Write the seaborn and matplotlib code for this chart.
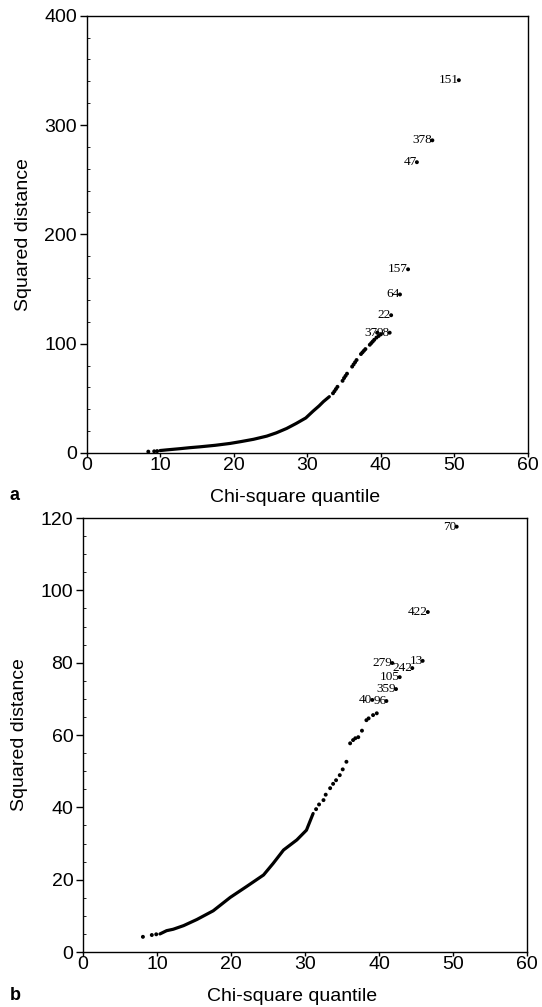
import numpy as np
import pandas as pd
import matplotlib
matplotlib.use('Agg')
import matplotlib.pyplot as plt
import seaborn as sns
from matplotlib.ticker import MultipleLocator

# --- panel a: squared distance vs chi-square quantile ---
# dense part of the curve
a_line_q = [10.0, 10.9, 12.7, 14.0, 15.4, 17.5, 19.5, 21.0, 22.7, 24.5,
            25.8, 27.2, 28.5, 29.8, 30.8, 31.6, 32.2, 33.0]
a_line_d = [2.2, 2.8, 3.9, 4.8, 5.6, 7.0, 8.7, 10.4, 12.5, 15.4,
            18.4, 22.4, 27.0, 32.0, 38.3, 43.0, 47.0, 51.5]
# sparse dots (dashed looking upper part and lone points at the start)
a_dot_q = [8.4, 9.2, 9.6, 33.5, 33.7, 33.9, 34.1, 34.8, 35.0, 35.2, 35.4,
           36.1, 36.3, 36.5, 36.7, 37.3, 37.5, 37.7, 37.9, 38.5, 38.7, 38.9,
           39.1, 39.4, 39.7, 40.0]
a_dot_d = [1.2, 1.5, 1.7, 54.6, 56.5, 58.5, 60.5, 66.0, 68.5, 70.5, 72.5,
           79.0, 81.0, 83.0, 85.0, 90.5, 92.0, 93.5, 95.0, 99.0, 100.5, 102.0,
           103.5, 105.5, 107.0, 108.5]
# labelled outliers (label sits to the left of its point)
a_lab = ['151', '378', '47', '157', '64', '22', '37', '98']
a_lab_q = [50.6, 47.0, 44.9, 43.7, 42.6, 41.4, 39.5, 41.2]
a_lab_d = [341.0, 286.0, 266.0, 168.0, 145.0, 126.0, 110.0, 110.0]

# --- panel b ---
b_line_q = [10.4, 11.3, 12.2, 13.6, 15.4, 17.6, 19.9, 22.1, 24.4, 25.7,
            27.1, 28.9, 30.2, 31.1]
b_line_d = [5.0, 5.9, 6.3, 7.3, 9.0, 11.4, 15.1, 18.1, 21.3, 24.5,
            28.2, 31.0, 33.7, 38.3]
b_dot_q = [8.1, 9.3, 9.9, 31.5, 31.9, 32.5, 32.8, 33.4, 33.8, 34.2, 34.7,
           35.1, 35.6, 36.1, 36.5, 36.8, 37.2, 37.7, 38.3, 38.6, 39.2, 39.7]
b_dot_d = [4.2, 4.7, 4.9, 39.5, 40.8, 42.0, 43.5, 45.3, 46.5, 47.5, 48.9,
           50.5, 52.6, 57.7, 58.6, 59.1, 59.4, 61.2, 64.1, 64.6, 65.5, 66.0]
b_lab = ['70', '422', '13', '242', '279', '105', '359', '40', '96']
b_lab_q = [50.5, 46.6, 45.9, 44.5, 41.8, 42.8, 42.3, 39.1, 41.0]
b_lab_d = [117.6, 94.0, 80.5, 78.5, 79.9, 76.0, 72.7, 69.7, 69.4]

sns.set_theme(style='white')
plt.rcParams['font.family'] = ['Liberation Sans', 'DejaVu Sans']
plt.rcParams['text.color'] = 'black'
plt.rcParams['axes.labelcolor'] = 'black'
plt.rcParams['xtick.color'] = 'black'
plt.rcParams['ytick.color'] = 'black'

fig = plt.figure(figsize=(5.42, 10.07), dpi=100)
ax_a = fig.add_axes([0.1596, 0.5502, 0.8146, 0.4342])
ax_b = fig.add_axes([0.1531, 0.0546, 0.8192, 0.4310])

panels = [
    (ax_a, a_line_q, a_line_d, a_dot_q, a_dot_d, a_lab, a_lab_q, a_lab_d,
     400, 100, 20, 'a', 495),
    (ax_b, b_line_q, b_line_d, b_dot_q, b_dot_d, b_lab, b_lab_q, b_lab_d,
     120, 20, 5, 'b', 995),
]

for ax, lq, ld, dq, dd, lab, labq, labd, ymax, ystep, yminor, tag, tag_y in panels:
    line_df = pd.DataFrame({'q': lq, 'd': ld})
    dot_df = pd.DataFrame({'q': dq + labq, 'd': dd + labd})
    sns.lineplot(data=line_df, x='q', y='d', ax=ax, color='black', lw=2.3,
                 estimator=None, sort=False)
    sns.scatterplot(data=dot_df, x='q', y='d', ax=ax, color='black', s=8,
                    edgecolor='none', linewidth=0)
    for t, q, d in zip(lab, labq, labd):
        ax.text(q, d, t, ha='right', va='center', fontsize=9.5,
                family=['Liberation Serif', 'DejaVu Serif'], color='black')

    ax.set_xlim(0, 60)
    ax.set_ylim(0, ymax)
    ax.xaxis.set_major_locator(MultipleLocator(10))
    ax.yaxis.set_major_locator(MultipleLocator(ystep))
    ax.yaxis.set_minor_locator(MultipleLocator(yminor))
    ax.tick_params(axis='x', which='major', direction='out', length=3,
                   width=1, labelsize=14, pad=0, bottom=True)
    ax.tick_params(axis='y', which='major', direction='out', length=5,
                   width=1, labelsize=14, pad=2, left=True)
    ax.tick_params(axis='y', which='minor', direction='in', length=2,
                   width=0.6, left=True)
    for sp in ax.spines.values():
        sp.set_color('black')
        sp.set_linewidth(1.0)
    ax.set_xlabel('Chi-square quantile', fontsize=14, labelpad=11, x=0.472)
    ax.set_ylabel('Squared distance', fontsize=14, labelpad=9)
    fig.text(15 / 542, 1 - tag_y / 1007, tag, fontsize=13, fontweight='bold',
             ha='center', va='center')

fig.savefig('out.png', dpi=100, facecolor='white')
